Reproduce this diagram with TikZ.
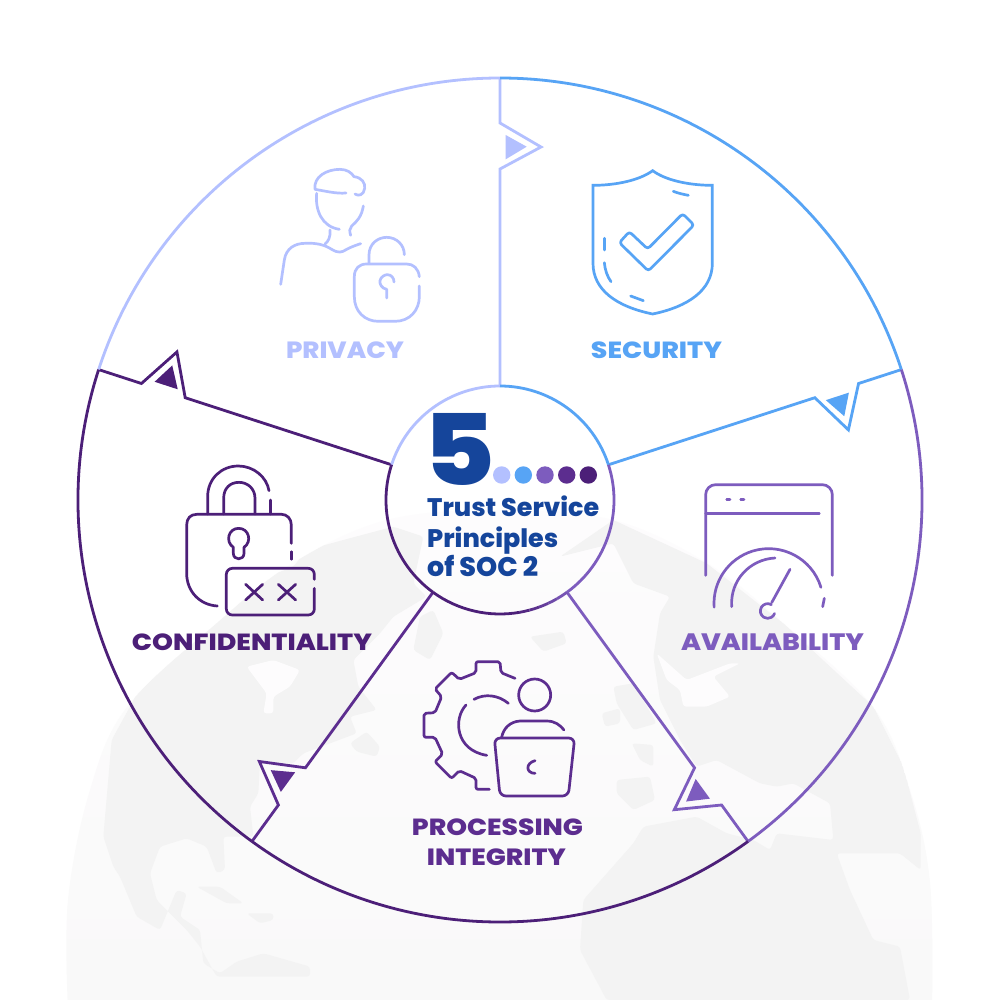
\documentclass[tikz,border=0pt]{standalone}
\usepackage{graphicx}
\usepackage{fontspec}
\setmainfont[BoldFont={Poppins ExtraBold}]{Poppins}
\definecolor{cPriv}{HTML}{B3C0FF}
\definecolor{cSec}{HTML}{57A4F5}
\definecolor{cAvail}{HTML}{7D5CBE}
\definecolor{cProc}{HTML}{5C2D8F}
\definecolor{cConf}{HTML}{4C1F78}
\definecolor{cBlue}{HTML}{15459B}
\definecolor{cLand}{HTML}{F3F3F3}
\definecolor{cSeaT}{HTML}{FDFCFD}
\definecolor{cSeaB}{HTML}{F9F9F9}
\newcommand\ringarc[4]{\draw[ring,draw=#4] ([shift={(500,500)}] -#2:#1) arc[start angle=#2,end angle=#3,radius=#1 pt];}
\newcommand\zarc[6][]{\draw[icon,#1] ([shift={(#2,#3)}] -#5:#4) arc[start angle=#5,end angle=#6,radius={#4/3*1pt}];}
\newcommand\fit[4]{\resizebox{#1pt}{#2pt}{\bfseries #3}}
\tikzset{
  zoomframe/.style n args={2}{shift={(#1,#2)},x=0.33333pt,y=-0.33333pt},
  icon/.style={line width=2.7pt,line cap=round,line join=round},
  ring/.style={line width=2.8pt},
  spoke/.style={line width=2.8pt,line join=miter},
  lab/.style={inner sep=0pt,outer sep=0pt,anchor=center},
  land/.style={fill=cLand,rounded corners=3pt},
  sea/.style={fill=cSeaT,rounded corners=3pt},
}
\begin{document}
\begin{tikzpicture}[x=1pt,y=-1pt]
\useasboundingbox (0,0) rectangle (1000,1000);
\fill[white] (0,0) rectangle (1000,1000);
% globe
\begin{scope}
\clip (0,0) rectangle (1000,1000);
\clip plot[smooth,tension=.6] coordinates {(68,1010) (68,900) (90,790) (127,707) (217,623) (293,563) (387,520) (500,510) (613,520) (707,563) (783,623) (873,707) (910,790) (930,883) (932,1010)} -- cycle;
\shade[top color=cSeaT,bottom color=cSeaB] (60,510) rectangle (940,1000);
\begin{scope}[zoomframe={60}{500}]
\fill[land] (155,720) -- (210,620) -- (290,470) -- (420,340) -- (560,255) -- (700,200) -- (740,150) -- (850,120) -- (1000,80) -- (1090,110) -- (1060,250) -- (1100,290) -- (1000,350) -- (960,400) -- (880,480) -- (895,560) -- (950,630) -- (870,650) -- (890,700) -- (730,760) -- (700,790) -- (600,785) -- (595,880) -- (570,920) -- (580,1010) -- (490,1010) -- (495,1110) -- (470,1120) -- (440,1040) -- (380,1015) -- (300,1040) -- (270,1120) -- (290,1200) -- (380,1290) -- (420,1340) -- (470,1430) -- (750,1430) -- (750,1400) -- (610,1360) -- (530,1385) -- (480,1420) -- (430,1390) -- (420,1290) -- (360,1250) -- (380,1180) -- (350,1170) -- (300,1290) -- (230,1250) -- (180,1130) -- (160,1100) -- (130,1010) -- cycle;
\fill[sea] (560,500) -- (640,480) -- (720,510) -- (690,560) -- (640,590) -- (640,640) -- (610,640) -- (620,580) -- cycle;
\fill[land] (410,1160) -- (480,1160) -- (550,1210) -- (500,1210) -- cycle;
\fill[land] (560,1240) -- (640,1240) -- (640,1260) -- (600,1270) -- cycle;
\fill[land] (870,730) -- (920,695) -- (960,740) -- (950,770) -- (890,755) -- cycle;
\fill[land] (730,700) -- (790,690) -- (820,710) -- (740,715) -- cycle;
\fill[land] (1060,450) -- (1080,350) -- (1120,330) -- (1150,400) -- (1110,480) -- cycle;
\end{scope}
\begin{scope}[zoomframe={500}{500}]
\fill[land] (180,170) -- (340,60) -- (620,190) -- (850,370) -- (1120,620) -- (1210,800) -- (1262,1000) -- (1262,1110) -- (1200,1060) -- (1010,1060) -- (1050,1170) -- (1120,1320) -- (1200,1340) -- (1230,1500) -- (320,1500) -- (240,1350) -- (250,1200) -- (400,1030) -- (430,980) -- (590,950) -- (680,1000) -- (760,1020) -- (810,1050) -- (830,1000) -- (1000,1020) -- (990,910) -- (880,850) -- (830,860) -- (780,850) -- (650,780) -- (590,800) -- (540,720) -- (480,600) -- (460,470) -- (480,340) -- (510,290) -- (400,250) -- (340,130) -- cycle;
\fill[sea] (470,460) -- (560,540) -- (690,490) -- (720,490) -- (640,530) -- (690,590) -- (620,620) -- (550,620) -- (540,570) -- (500,540) -- cycle;
\fill[land] (90,410) -- (190,395) -- (200,430) -- (130,455) -- cycle;
\fill[land] (340,560) -- (400,550) -- (470,670) -- (400,690) -- (350,610) -- cycle;
\fill[land] (305,640) -- (360,625) -- (360,670) -- (315,680) -- cycle;
\fill[land] (395,730) -- (460,735) -- (460,800) -- (420,780) -- cycle;
\fill[land] (350,840) -- (450,830) -- (465,900) -- (400,930) -- (350,880) -- cycle;
\end{scope}
\end{scope}
% spokes with flags
\foreach \a/\c in {0/cPriv,72/cSec,144/cAvail,216/cProc,288/cConf}{
\begin{scope}[rotate around={-\a:(500,500)}]
\draw[spoke,draw=\c] (500,386) -- (500,169) -- (541,147) -- (500,123) -- (500,78);
\fill[\c] (505.7,135) -- (505.7,159.3) -- (526.7,146.7) -- cycle;
\end{scope}}
% rings
\ringarc{422}{90}{162}{cPriv}
\ringarc{422}{18}{90}{cSec}
\ringarc{422}{-54}{18}{cAvail}
\ringarc{422}{-126}{-54}{cConf}
\ringarc{422}{162}{234}{cConf}
\ringarc{114}{90}{162}{cPriv}
\ringarc{114}{18}{90}{cSec}
\ringarc{114}{-54}{18}{cAvail}
\ringarc{114}{-126}{-80}{cConf}
\foreach \s/\e/\p in {-80/-75/15,-75/-70/30,-70/-65/50,-65/-60/70,-60/-54/85}{
\ringarc{114}{\s}{\e}{cAvail!\p!cConf}}
\ringarc{114}{162}{234}{cConf}
% privacy icon
\begin{scope}[zoomframe={250}{80},draw=cPriv]
\draw[icon] (288,339) .. controls (260,342) and (220,332) .. (195,328) .. controls (190,290) and (230,268) .. (270,268) .. controls (290,268) and (305,278) .. (312,290) .. controls (335,292) and (347,310) .. (344,325) .. controls (342,345) and (325,350) .. (315,342);
\draw[icon] (200,340) .. controls (195,390) and (215,440) .. (268,448);
\draw[icon] (340,378) .. controls (335,410) and (320,425) .. (305,438) .. controls (298,445) and (298,455) .. (302,466);
\draw[icon] (240,450) .. controls (242,470) and (235,485) .. (225,492);
\draw[icon] (92,613) -- (103,540) .. controls (108,505) and (135,490) .. (165,490) .. controls (200,488) and (225,495) .. (245,508) .. controls (265,520) and (275,518) .. (290,508) .. controls (305,500) and (320,495) .. (332,491);
\draw[icon] (357,548) -- (357,525) .. controls (357,490) and (385,472) .. (410,472) .. controls (440,472) and (463,495) .. (463,524);
\draw[icon] (508,590) .. controls (505,565) and (490,552) .. (470,552) -- (350,552) .. controls (328,552) and (313,565) .. (313,590) -- (313,650) .. controls (313,695) and (345,724) .. (385,724) -- (435,724) .. controls (480,724) and (508,690) .. (508,650) -- (508,618);
\draw[icon] (410,654) -- (410,628) .. controls (395,625) and (388,612) .. (390,602) .. controls (392,590) and (405,584) .. (412,584) .. controls (425,584) and (432,595) .. (432,606);
\end{scope}
% security icon
\begin{scope}[zoomframe={560}{150},draw=cSec]
\draw[icon,line join=miter] (278,62) .. controls (240,90) and (170,106) .. (99,106) -- (99,340) .. controls (99,420) and (170,470) .. (278,492) .. controls (385,470) and (457,420) .. (457,340) -- (457,106) .. controls (385,106) and (315,90) .. (278,62) -- cycle;
\draw[icon] (340,124) .. controls (355,130) and (370,133) .. (385,136);
\draw[icon] (133,265) -- (133,300);
\draw[icon] (133,338) .. controls (135,360) and (142,380) .. (153,395);
\draw[icon] (212,438) -- (250,452);
\draw[icon,rounded corners=3pt] (208,245) -- (178,278) -- (265,363) -- (402,225) -- (368,191) -- (263,297) -- cycle;
\end{scope}
% availability icon
\begin{scope}[zoomframe={670}{470},draw=cAvail]
\draw[icon,rounded corners=10pt] (107,316) -- (107,44) -- (487,44) -- (487,316);
\draw[icon] (107,130) -- (448,130);
\draw[icon] (170,89) -- (180,89);
\draw[icon] (212,89) -- (222,89);
\zarc[draw=cAvail]{296}{400}{164}{17}{184}
\draw[icon] (463,385) -- (458,410);
\draw[icon] (185,410) .. controls (180,330) and (240,268) .. (315,264);
\draw[icon] (305,398) -- (360,298);
\zarc[draw=cAvail]{293}{423}{22}{60}{340}
\end{scope}
% confidentiality icon
\begin{scope}[zoomframe={130}{350},draw=cConf]
\draw[icon] (233,492) -- (233,440) .. controls (233,385) and (275,348) .. (325,348) .. controls (370,348) and (410,380) .. (417,422);
\draw[icon] (421,450) -- (421,492);
\draw[icon] (281,492) -- (281,445) .. controls (281,415) and (300,397) .. (327,397) .. controls (352,397) and (375,415) .. (375,445) -- (375,492);
\draw[icon] (484,580) -- (484,525) .. controls (484,505) and (470,493) .. (455,493) -- (200,493) .. controls (182,493) and (170,505) .. (170,525) -- (170,670) .. controls (170,725) and (210,765) .. (262,768);
\draw[icon] (484,605) -- (484,628);
\draw[icon] (310,592) .. controls (285,575) and (295,535) .. (326,535) .. controls (357,535) and (367,575) .. (342,592) -- (342,610) .. controls (342,632) and (310,632) .. (310,610) -- cycle;
\draw[icon,rounded corners=6pt] (553,688) -- (553,655) -- (289,655) -- (289,795) -- (553,795) -- (553,715);
\draw[icon] (347,703) -- (398,750);
\draw[icon] (398,703) -- (347,750);
\draw[icon] (445,703) -- (497,750);
\draw[icon] (497,703) -- (445,750);
\end{scope}
% processing icon
\begin{scope}[zoomframe={400}{650},draw=cProc]
\draw[icon,rounded corners=2pt] (345,85) -- (303,68) -- (300,35) -- (228,35) -- (228,68) -- (178,88) -- (155,67) -- (105,117) -- (125,140) -- (105,188) -- (72,190) -- (72,262) -- (105,262) -- (128,312) -- (105,335) -- (155,385) -- (178,362) -- (228,385) -- (228,418) -- (268,418);
\draw[icon] (325,160) .. controls (295,135) and (255,130) .. (222,148);
\draw[icon] (198,165) .. controls (160,205) and (165,300) .. (260,316);
\draw[icon] (404,135) circle[radius=16pt];
\draw[icon] (305,262) .. controls (310,235) and (330,215) .. (360,213) -- (440,213) .. controls (465,213) and (480,225) .. (492,240);
\draw[icon,rounded corners=6pt] (283,264) -- (524,264) -- (505,438) -- (300,438) -- cycle;
\draw[icon] (405,332) .. controls (375,340) and (378,370) .. (405,370);
\end{scope}
% labels
\node[lab,text=cPriv] (privacy) at (345,350) {\fit{118}{16.7}{PRIVACY}{}};
\node[lab,text=cSec] (security) at (656.5,350) {\fit{131}{16.7}{SECURITY}{}};
\node[lab,text=cAvail] (availability) at (772.5,642) {\fit{183}{16.7}{AVAILABILITY}{}};
\node[lab,text=cConf] (confidentiality) at (252,642) {\fit{240}{16.7}{CONFIDENTIALITY}{}};
\node[lab,text=cProc] (processing) at (497.5,827.5) {\fit{171}{16.7}{PROCESSING}{}};
\node[lab,text=cProc] (integrity) at (496.5,857) {\fit{139}{16.7}{INTEGRITY}{}};
% centre
\node[lab,text=cBlue] (five) at (459.5,449) {\resizebox{72pt}{72pt}{\bfseries 5}};
\foreach \n/\x/\c in {d1/501.7/cPriv,d2/523.3/cSec,d3/545/cAvail,d4/566.7/cProc,d5/588.3/cConf}{
\node[circle,fill=\c,inner sep=0pt,minimum size=17.4pt] (\n) at (\x,475) {};}
\node[inner sep=0pt,anchor=base west,text=cBlue] (l1) at (427,516.5) {\resizebox{172pt}{!}{\bfseries Trust Service}};
\node[inner sep=0pt,anchor=base west,text=cBlue] (l2) at (427,547) {\resizebox{131pt}{!}{\bfseries Principles}};
\node[inner sep=0pt,anchor=base west,text=cBlue] (l3) at (427,576.5) {\resizebox{111pt}{!}{\bfseries of SOC 2}};
\end{tikzpicture}
\end{document}
